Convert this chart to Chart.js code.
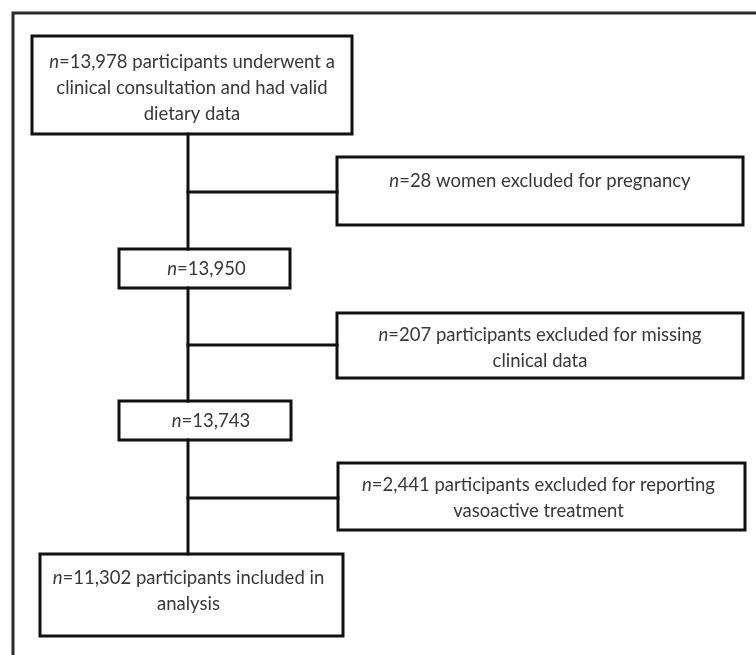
<!DOCTYPE html>
<html lang="en">
<head>
<meta charset="utf-8">
<title>Participant flow chart</title>
<style>
  html, body { margin: 0; padding: 0; background: #fff; }
  #flow { display: block; }
</style>
</head>
<body>
<canvas id="flow" width="756" height="655"></canvas>
<script src="https://cdn.jsdelivr.net/npm/chart.js"></script>
<script>
// participants left after each step
var stageCounts = ['13,978', '13,950', '13,743', '11,302'];
var stageNotes = [
  [' participants underwent a', 'clinical consultation and had valid', 'dietary data'],
  [''],
  [''],
  [' participants included in', 'analysis']
];
// participants dropped at each step
var excludedCounts = ['28', '207', '2,441'];
var excludedNotes = [
  [' women excluded for pregnancy'],
  [' participants excluded for missing', 'clinical data'],
  [' participants excluded for reporting', 'vasoactive treatment']
];

// box geometry, in axis units (axes span the whole canvas)
var stageBoxes = [
  { x0: 32,  x1: 352, y0: 36,  y1: 134, ty: 62,  dx: 0 },
  { x0: 119, x1: 290, y0: 249, y1: 288, ty: 269, dx: 2 },
  { x0: 119, x1: 291, y0: 401, y1: 440, ty: 421, dx: 6 },
  { x0: 40,  x1: 343, y0: 554, y1: 636, ty: 578, dx: -3 }
];
var excludedBoxes = [
  { x0: 337, x1: 743, y0: 157, y1: 225, ty: 181, dx: 0 },
  { x0: 337, x1: 743, y0: 313, y1: 378, ty: 335, dx: 0 },
  { x0: 338, x1: 745, y0: 463, y1: 530, ty: 485, dx: -3 }
];
var trunkX = 188;
var branchY = [192, 345, 498];
var lineGap = 26;

function rect(b) {
  return [{x: b.x0, y: b.y0}, {x: b.x1, y: b.y0}, {x: b.x1, y: b.y1}, {x: b.x0, y: b.y1}, {x: b.x0, y: b.y0}];
}

function lineSet(points, color, width) {
  return {
    data: points,
    showLine: true,
    borderColor: color,
    borderWidth: width,
    pointRadius: 0,
    tension: 0,
    borderJoinStyle: 'miter',
    borderCapStyle: 'square',
    fill: false
  };
}

var datasets = [];
// outer frame
datasets.push(lineSet([{x: 13, y: 655}, {x: 13, y: 13}, {x: 756, y: 13}], '#2a2a2a', 3));
stageBoxes.forEach(function (b) { datasets.push(lineSet(rect(b), '#111', 3)); });
excludedBoxes.forEach(function (b) { datasets.push(lineSet(rect(b), '#111', 3)); });
for (var i = 0; i < stageBoxes.length - 1; i++) {
  datasets.push(lineSet([{x: trunkX, y: stageBoxes[i].y1}, {x: trunkX, y: stageBoxes[i + 1].y0}], '#111', 3));
}
branchY.forEach(function (y, i) {
  datasets.push(lineSet([{x: trunkX, y: y}, {x: excludedBoxes[i].x0, y: y}], '#111', 3));
});

var FONT = '"Lato", "DejaVu Sans", sans-serif';
var SIZE = 18.5;

function drawBoxText(ctx, sx, sy, box, count, notes) {
  var cx = sx.getPixelForValue((box.x0 + box.x1) / 2 + box.dx);
  ctx.fillStyle = '#383838';
  ctx.textBaseline = 'middle';
  ctx.textAlign = 'left';
  notes.forEach(function (line, k) {
    var y = sy.getPixelForValue(box.ty + k * lineGap);
    if (k === 0) {
      var head = 'n', rest = '=' + count + line;
      ctx.font = 'italic ' + SIZE + 'px ' + FONT;
      var wHead = ctx.measureText(head).width;
      ctx.font = SIZE + 'px ' + FONT;
      var wRest = ctx.measureText(rest).width;
      var x = cx - (wHead + wRest) / 2;
      ctx.font = 'italic ' + SIZE + 'px ' + FONT;
      ctx.fillText(head, x, y);
      ctx.font = SIZE + 'px ' + FONT;
      ctx.fillText(rest, x + wHead, y);
    } else {
      ctx.font = SIZE + 'px ' + FONT;
      var w = ctx.measureText(line).width;
      ctx.fillText(line, cx - w / 2, y);
    }
  });
}

var boxText = {
  id: 'boxText',
  afterDatasetsDraw: function (chart) {
    var ctx = chart.ctx, sx = chart.scales.x, sy = chart.scales.y;
    ctx.save();
    stageBoxes.forEach(function (b, i) { drawBoxText(ctx, sx, sy, b, stageCounts[i], stageNotes[i]); });
    excludedBoxes.forEach(function (b, i) { drawBoxText(ctx, sx, sy, b, excludedCounts[i], excludedNotes[i]); });
    ctx.restore();
  }
};

new Chart('flow', {
  type: 'scatter',
  data: { datasets: datasets },
  options: {
    responsive: false,
    animation: false,
    layout: { padding: 0 },
    plugins: { legend: { display: false }, tooltip: { enabled: false } },
    scales: {
      x: { type: 'linear', min: 0, max: 756, display: false },
      y: { type: 'linear', min: 0, max: 655, reverse: true, display: false }
    },
    elements: { line: { clip: false } }
  },
  plugins: [boxText]
});
</script>
</body>
</html>
